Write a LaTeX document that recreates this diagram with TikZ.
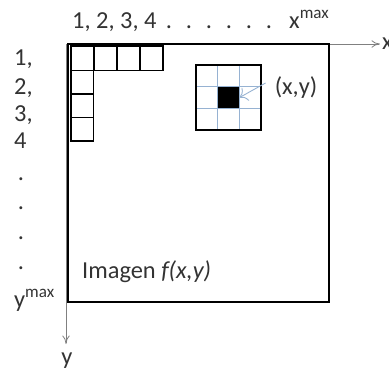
\documentclass[tikz,border=0pt]{standalone}
\usepackage{fontspec}
\setmainfont{Carlito}
\usetikzlibrary{arrows.meta,positioning,calc}
\definecolor{azulgris}{RGB}{150,178,210}
\tikzset{
  marco/.style={draw,line width=1.6pt},
  celda/.style={draw,line width=1.4pt},
  rejilla/.style={draw=azulgris,line width=0.6pt},
  eje/.style={draw=gray,line width=0.8pt,-{To[length=3mm,width=2.6mm]}},
  flecha/.style={draw=azulgris,line width=0.9pt,-{To[length=2.5mm]}},
  rot/.style={inner sep=0pt,text=black!80,font=\fontsize{24.4}{28}\selectfont},
}
\begin{document}
\begin{tikzpicture}[x=1pt,y=-1pt]
  \useasboundingbox (0,0) rectangle (389,370);
  \coordinate (o) at (66,44);
  \coordinate (xfin) at (380,44);
  \coordinate (yfin) at (66,344);
  \draw[eje] (o) -- (xfin);
  \draw[eje] (o) -- (yfin);
  \draw[marco] (68,44) rectangle (329,302);
  % fila y columna de pixeles
  \foreach \i in {0,...,3}
    \draw[celda] ({71+23*\i},46) rectangle +(23,24.5);
  \foreach \j in {1,2,3}
    \draw[celda] (71,{46+23.5*\j+1}) rectangle +(22.5,23.5);
  % ventana 3x3
  \foreach \k in {1,2}{
    \draw[rejilla] ({196+21.7*\k},65) -- +(0,65);
    \draw[rejilla] (196,{65+21.7*\k}) -- +(65,0);
  }
  \node[fill,minimum size=21.7pt,inner sep=0pt] (pixel) at (228.5,97.5) {};
  \draw[marco] (196,65) rectangle (261,130);
  \node[rot] (pos) at (296,88) {(x,y)};
  \draw[flecha] ([xshift=-9pt,yshift=5pt]pos.west) -- (pixel.east);
  % rotulos de los ejes
  \node[rot,anchor=base west] (cols) at (72,28) {1, 2, 3, 4};
  \foreach \d in {0,...,5}
    \node[rot,anchor=base] at ({169+20*\d},28) {.};
  \node[rot,anchor=base west] (xmax) at (289,28) {x\textsuperscript{max}};
  \node[rot,anchor=west] (xlab) at (382,44) {x};
  \foreach \n/\b in {{1,}/65,{2,}/94,{3,}/121,{4}/148}
    \node[rot,anchor=base west] at (14,\b) {\n};
  \foreach \b in {180,209,239,269}
    \node[rot,anchor=base] at (21,\b) {.};
  \node[rot,anchor=base west] (ymax) at (14,307) {y\textsuperscript{max}};
  \node[rot,anchor=base] (ylab) at (67,364) {y};
  \node[rot,anchor=base west] (imagen) at (82,278) {Imagen \textit{f(x,y)}};
\end{tikzpicture}
\end{document}
